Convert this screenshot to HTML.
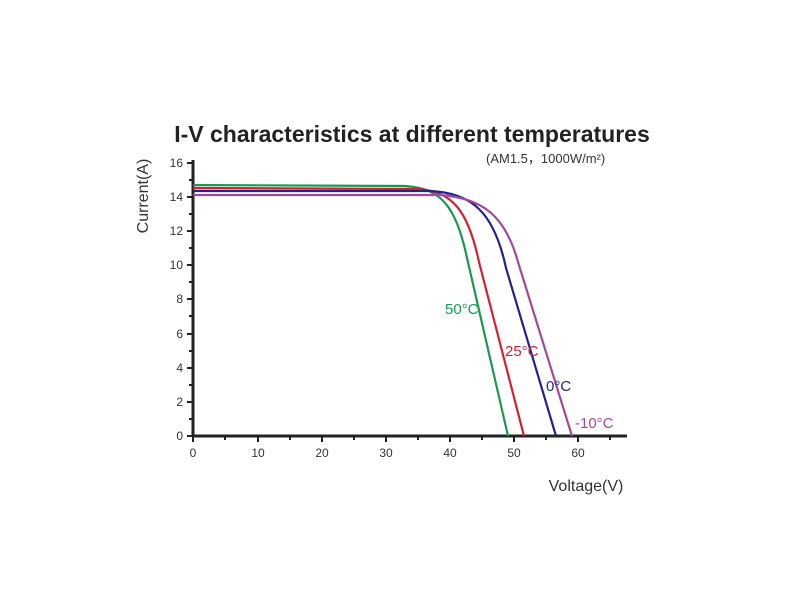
<!DOCTYPE html>
<html><head><meta charset="utf-8"><style>
body{margin:0;background:#fff;}
svg{display:block;}
text{font-family:"Liberation Sans",sans-serif;}
</style></head><body>
<svg width="800" height="600" viewBox="0 0 800 600">
<text x="412" y="142" text-anchor="middle" font-size="23" font-weight="bold" fill="#222">I-V characteristics at different temperatures</text>
<text x="486" y="163" font-size="13" fill="#333">(AM1.5，1000W/m²)</text>
<text transform="translate(148,196) rotate(-90)" text-anchor="middle" font-size="16" fill="#333">Current(A)</text>
<text x="586" y="491" text-anchor="middle" font-size="16" fill="#333">Voltage(V)</text>
<g stroke="#222" stroke-width="3" fill="none">
<line x1="193" y1="160" x2="193" y2="437"/>
<line x1="192" y1="436" x2="627" y2="436"/>
</g>
<g stroke="#222" stroke-width="2">
<line x1="187" y1="163" x2="193" y2="163"/><line x1="187" y1="197" x2="193" y2="197"/><line x1="187" y1="231" x2="193" y2="231"/><line x1="187" y1="265" x2="193" y2="265"/><line x1="187" y1="299" x2="193" y2="299"/><line x1="187" y1="334" x2="193" y2="334"/><line x1="187" y1="368" x2="193" y2="368"/><line x1="187" y1="402" x2="193" y2="402"/><line x1="187" y1="436" x2="193" y2="436"/>
<line x1="189" y1="180" x2="193" y2="180"/><line x1="189" y1="214" x2="193" y2="214"/><line x1="189" y1="248" x2="193" y2="248"/><line x1="189" y1="282" x2="193" y2="282"/><line x1="189" y1="316" x2="193" y2="316"/><line x1="189" y1="351" x2="193" y2="351"/><line x1="189" y1="385" x2="193" y2="385"/><line x1="189" y1="419" x2="193" y2="419"/>
<line x1="193" y1="436" x2="193" y2="442"/><line x1="258" y1="436" x2="258" y2="442"/><line x1="322" y1="436" x2="322" y2="442"/><line x1="386" y1="436" x2="386" y2="442"/><line x1="450" y1="436" x2="450" y2="442"/><line x1="514" y1="436" x2="514" y2="442"/><line x1="578" y1="436" x2="578" y2="442"/>
<line x1="225" y1="436" x2="225" y2="440"/><line x1="290" y1="436" x2="290" y2="440"/><line x1="354" y1="436" x2="354" y2="440"/><line x1="418" y1="436" x2="418" y2="440"/><line x1="482" y1="436" x2="482" y2="440"/><line x1="546" y1="436" x2="546" y2="440"/><line x1="610" y1="436" x2="610" y2="440"/>
</g>
<g font-size="12" fill="#333" text-anchor="end">
<text x="183" y="167">16</text><text x="183" y="201">14</text><text x="183" y="235">12</text><text x="183" y="269">10</text><text x="183" y="303">8</text><text x="183" y="338">6</text><text x="183" y="372">4</text><text x="183" y="406">2</text><text x="183" y="440">0</text>
</g>
<g font-size="12" fill="#333" text-anchor="middle">
<text x="193" y="457">0</text><text x="258" y="457">10</text><text x="322" y="457">20</text><text x="386" y="457">30</text><text x="450" y="457">40</text><text x="514" y="457">50</text><text x="578" y="457">60</text>
</g>
<g fill="none" stroke-width="2.2" stroke-linejoin="round">
<path d="M193,185 L405,186 C440,188 456,205 467,258 L508,436" stroke="#1a9a50"/>
<path d="M193,188 L415,189 C452,190 468,210 479,262 L524,436" stroke="#d42030"/>
<path d="M193,191 L430,191 C472,193 494,212 506,268 L556,436" stroke="#23238a"/>
<path d="M193,195 L440,195 C482,198 505,215 518,262 L572,436" stroke="#a04a9a"/>
</g>
<text x="445" y="314" font-size="15" fill="#1a9a50">50°C</text>
<text x="505" y="356" font-size="15" fill="#d42030">25°C</text>
<text x="546" y="391" font-size="15" fill="#23238a">0°C</text>
<text x="575" y="428" font-size="15" fill="#a04a9a">-10°C</text>
</svg>
</body></html>
